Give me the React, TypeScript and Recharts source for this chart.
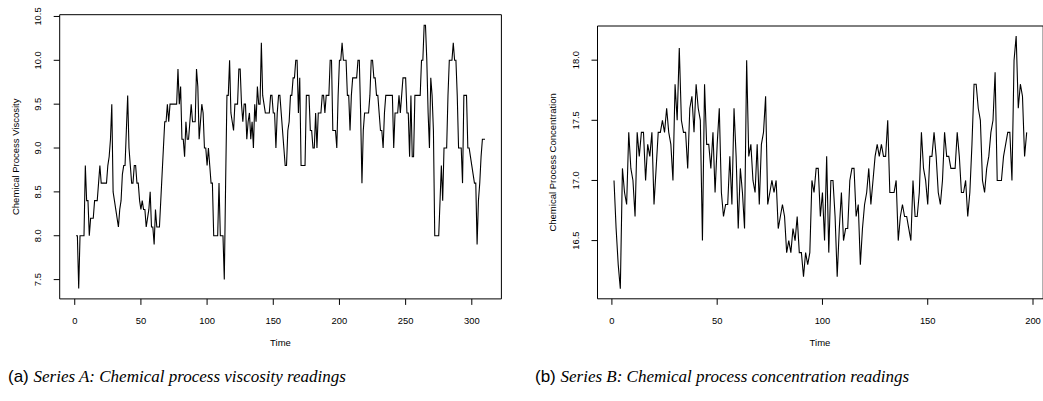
import { Line, LineChart, ReferenceArea, XAxis, YAxis } from 'recharts';

// Series D: viscosity, hourly readings
const viscosity = [
  8.0, 8.0, 7.4, 8.0, 8.0, 8.0, 8.0, 8.8, 8.4, 8.4,
  8.0, 8.2, 8.2, 8.2, 8.4, 8.4, 8.4, 8.6, 8.8, 8.6,
  8.6, 8.6, 8.6, 8.6, 8.8, 8.9, 9.1, 9.5, 8.5, 8.4,
  8.3, 8.2, 8.1, 8.3, 8.4, 8.7, 8.8, 8.8, 9.2, 9.6,
  9.0, 8.8, 8.6, 8.6, 8.8, 8.8, 8.6, 8.6, 8.4, 8.3,
  8.4, 8.3, 8.3, 8.1, 8.2, 8.3, 8.5, 8.1, 8.1, 7.9,
  8.3, 8.1, 8.1, 8.1, 8.4, 8.7, 9.0, 9.3, 9.3, 9.5,
  9.3, 9.5, 9.5, 9.5, 9.5, 9.5, 9.5, 9.9, 9.5, 9.7,
  9.1, 9.1, 8.9, 9.3, 9.1, 9.1, 9.3, 9.5, 9.3, 9.3,
  9.3, 9.9, 9.7, 9.1, 9.3, 9.5, 9.4, 9.0, 9.0, 8.8,
  9.0, 8.8, 8.6, 8.6, 8.0, 8.0, 8.0, 8.0, 8.6, 8.0,
  8.0, 8.0, 7.5, 8.6, 9.6, 9.6, 10.0, 9.4, 9.3, 9.2,
  9.5, 9.5, 9.5, 9.9, 9.9, 9.5, 9.3, 9.5, 9.5, 9.1,
  9.3, 9.4, 9.1, 9.3, 9.0, 9.5, 9.3, 9.7, 9.5, 9.5,
  10.2, 9.6, 9.5, 9.4, 9.4, 9.4, 9.4, 9.6, 9.6, 9.4,
  9.4, 9.0, 9.4, 9.6, 9.6, 9.4, 9.2, 9.0, 8.8, 8.8,
  9.2, 9.3, 9.6, 9.6, 9.8, 9.8, 10.0, 10.0, 9.4, 9.8,
  8.8, 8.8, 8.8, 8.8, 9.6, 9.6, 9.6, 9.2, 9.2, 9.0,
  9.0, 9.4, 9.0, 9.4, 9.4, 9.4, 9.6, 9.6, 9.4, 9.6,
  9.6, 9.6, 10.0, 10.0, 9.2, 9.2, 9.2, 9.0, 9.6, 10.0,
  10.0, 10.2, 10.0, 10.0, 10.0, 9.6, 9.6, 9.2, 9.6, 9.8,
  9.8, 9.8, 9.8, 10.0, 10.0, 9.4, 8.6, 9.2, 9.4, 9.4,
  9.4, 9.4, 9.6, 10.0, 10.0, 9.8, 9.8, 9.6, 9.6, 9.4,
  9.2, 9.2, 9.0, 9.4, 9.6, 9.6, 9.6, 9.6, 9.6, 9.6,
  9.0, 9.4, 9.4, 9.4, 9.6, 9.4, 9.6, 9.8, 9.8, 9.8,
  9.4, 9.4, 8.9, 9.6, 8.9, 8.9, 9.6, 9.6, 9.6, 9.6,
  9.6, 10.0, 10.0, 10.4, 10.4, 10.0, 9.4, 9.0, 9.8, 9.6,
  9.2, 8.0, 8.0, 8.0, 8.0, 8.4, 8.8, 8.4, 9.0, 9.0,
  9.0, 9.6, 10.0, 10.0, 10.0, 10.2, 10.0, 10.0, 9.6, 9.0,
  9.0, 9.0, 8.6, 9.6, 9.6, 9.6, 9.0, 9.0, 8.9, 8.8,
  8.7, 8.6, 8.6, 7.9, 8.4, 8.6, 8.9, 9.1, 9.1, 9.1,
];

// Series A: concentration, every two hours
const concentration = [
  17.0, 16.6, 16.3, 16.1, 17.1, 16.9, 16.8, 17.4, 17.1, 17.0,
  16.7, 17.4, 17.2, 17.4, 17.4, 17.0, 17.3, 17.2, 17.4, 16.8,
  17.1, 17.4, 17.4, 17.5, 17.4, 17.6, 17.4, 17.3, 17.0, 17.8,
  17.5, 18.1, 17.5, 17.4, 17.4, 17.1, 17.6, 17.7, 17.4, 17.8,
  17.6, 17.5, 16.5, 17.8, 17.3, 17.3, 17.1, 17.4, 16.9, 17.3,
  17.6, 16.9, 16.7, 16.8, 16.8, 17.2, 16.8, 17.6, 17.2, 16.6,
  17.1, 16.9, 16.6, 18.0, 17.2, 17.3, 17.0, 16.9, 17.3, 16.8,
  17.3, 17.4, 17.7, 16.8, 16.9, 17.0, 16.9, 17.0, 16.6, 16.7,
  16.8, 16.7, 16.4, 16.5, 16.4, 16.6, 16.5, 16.7, 16.4, 16.4,
  16.2, 16.4, 16.3, 16.4, 17.0, 16.9, 17.1, 17.1, 16.7, 16.9,
  16.5, 17.2, 16.4, 17.0, 17.0, 16.7, 16.2, 16.6, 16.9, 16.5,
  16.6, 16.6, 17.0, 17.1, 17.1, 16.7, 16.8, 16.3, 16.6, 16.8,
  16.9, 17.1, 16.8, 17.0, 17.2, 17.3, 17.2, 17.3, 17.2, 17.2,
  17.5, 16.9, 16.9, 16.9, 17.0, 16.5, 16.7, 16.8, 16.7, 16.7,
  16.6, 16.5, 17.0, 16.7, 16.7, 16.9, 17.4, 17.1, 17.0, 16.8,
  17.2, 17.2, 17.4, 17.2, 16.9, 16.8, 17.0, 17.4, 17.2, 17.2,
  17.1, 17.1, 17.1, 17.4, 17.2, 16.9, 16.9, 17.0, 16.7, 16.9,
  17.3, 17.8, 17.8, 17.6, 17.5, 17.0, 16.9, 17.1, 17.2, 17.4,
  17.5, 17.9, 17.0, 17.0, 17.0, 17.2, 17.3, 17.4, 17.4, 17.0,
  18.0, 18.2, 17.6, 17.8, 17.7, 17.2, 17.4,
];

const viscosityTicks = [7.5, 8, 8.5, 9, 9.5, 10, 10.5];
const viscosityTimeTicks = [0, 50, 100, 150, 200, 250, 300];
const concentrationTicks = [16.5, 17, 17.5, 18];
const concentrationTimeTicks = [0, 50, 100, 150, 200];

const FONT = '"Liberation Sans", Arial, Helvetica, sans-serif';
const SERIF = '"Liberation Serif", "Times New Roman", serif';
const TICK_FS = 9.4;

function XTick({ x, y, payload }: any) {
  return (
    <text x={x} y={y + 16} textAnchor="middle" dominantBaseline="central" fontSize={TICK_FS} fontFamily={FONT} fill="#000">
      {payload.value}
    </text>
  );
}

function YTick({ x, y, payload }: any) {
  const cx = x - 16;
  return (
    <text
      x={cx}
      y={y}
      transform={`rotate(-90, ${cx}, ${y})`}
      textAnchor="middle"
      dominantBaseline="central"
      fontSize={TICK_FS}
      fontFamily={FONT}
      fill="#000"
    >
      {Number(payload.value).toFixed(1)}
    </text>
  );
}

function rows(values: number[]) {
  return values.map((v, i) => ({ t: i + 1, v }));
}

interface PanelProps {
  data: { t: number; v: number }[];
  width: number;
  height: number;
  margin: { top: number; right: number; bottom: number; left: number };
  xDomain: [number, number];
  yDomain: [number, number];
  xTicks: number[];
  yTicks: number[];
}

// axes take 1px each, so the margins are the box edges minus that
function Panel({ data, width, height, margin, xDomain, yDomain, xTicks, yTicks }: PanelProps) {
  const m = { ...margin, left: margin.left - 1, bottom: margin.bottom - 1 };
  return (
    <LineChart width={width} height={height} data={data} margin={m}>
      <XAxis
        dataKey="t"
        type="number"
        domain={xDomain}
        ticks={xTicks}
        allowDataOverflow
        interval={0}
        height={1}
        axisLine={false}
        tickSize={6}
        tickMargin={0}
        tickLine={{ stroke: '#000', strokeWidth: 1 }}
        tick={<XTick />}
      />
      <YAxis
        type="number"
        domain={yDomain}
        ticks={yTicks}
        allowDataOverflow
        interval={0}
        width={1}
        axisLine={false}
        tickSize={6}
        tickMargin={0}
        tickLine={{ stroke: '#000', strokeWidth: 1 }}
        tick={<YTick />}
      />
      <ReferenceArea
        x1={xDomain[0]}
        x2={xDomain[1]}
        y1={yDomain[0]}
        y2={yDomain[1]}
        fill="none"
        stroke="#000"
        strokeWidth={1}
        ifOverflow="visible"
      />
      <Line type="linear" dataKey="v" stroke="#000" strokeWidth={1.1} dot={false} isAnimationActive={false} />
    </LineChart>
  );
}

export default function App() {
  return (
    <div style={{ position: 'absolute', left: 0, top: 0, width: 1043, height: 401, overflow: 'hidden', background: '#fff' }}>
      <div style={{ position: 'absolute', left: 0, top: 0 }}>
        <Panel
          data={rows(viscosity)}
          width={520}
          height={401}
          margin={{ top: 14.7, right: 18.6, bottom: 102.1, left: 59.7 }}
          xDomain={[-11.36, 322.36]}
          yDomain={[7.28, 10.52]}
          xTicks={viscosityTimeTicks}
          yTicks={viscosityTicks}
        />
      </div>
      <div style={{ position: 'absolute', left: 520, top: 0 }}>
        <Panel
          data={rows(concentration)}
          width={530}
          height={401}
          margin={{ top: 26, right: 6.8, bottom: 102.2, left: 77.5 }}
          xDomain={[-6.84, 204.84]}
          yDomain={[16.016, 18.284]}
          xTicks={concentrationTimeTicks}
          yTicks={concentrationTicks}
        />
      </div>
      <svg width={1043} height={401} style={{ position: 'absolute', left: 0, top: 0, pointerEvents: 'none' }}>
        <text x={16} y={156.8} transform="rotate(-90, 16, 156.8)" textAnchor="middle" dominantBaseline="central" fontSize={9.5} fontFamily={FONT}>
          Chemical Process Viscosity
        </text>
        <text x={280.5} y={342} textAnchor="middle" dominantBaseline="central" fontSize={9.5} fontFamily={FONT}>
          Time
        </text>
        <text x={553} y={162.4} transform="rotate(-90, 553, 162.4)" textAnchor="middle" dominantBaseline="central" fontSize={9.5} fontFamily={FONT}>
          Chemical Process Concentration
        </text>
        <text x={820} y={342} textAnchor="middle" dominantBaseline="central" fontSize={9.5} fontFamily={FONT}>
          Time
        </text>
        <text x={8} y={376} textAnchor="start" dominantBaseline="central" fontSize={17}>
          <tspan fontFamily={FONT}>(a) </tspan>
          <tspan fontFamily={SERIF} fontStyle="italic">Series A: Chemical process viscosity readings</tspan>
        </text>
        <text x={535} y={376} textAnchor="start" dominantBaseline="central" fontSize={17}>
          <tspan fontFamily={FONT}>(b) </tspan>
          <tspan fontFamily={SERIF} fontStyle="italic">Series B: Chemical process concentration readings</tspan>
        </text>
      </svg>
    </div>
  );
}
